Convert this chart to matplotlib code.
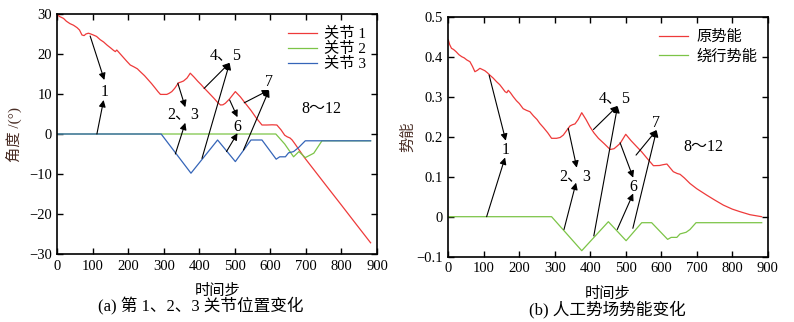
import matplotlib
matplotlib.use("Agg")
import matplotlib.pyplot as plt

plt.rcParams['font.family'] = ['Liberation Serif', 'Noto Sans CJK SC', 'DejaVu Sans']
plt.rcParams['axes.unicode_minus'] = True

# ---- data (a) ----
j1_x = [0,5,10,17,25,35,45,55,62,69, 75,80,87,94,101,110,120,130,140,150,
        158,163,167,175,185,195,205,215,225,233, 245,255,265,275,283,290,300,308,315,322,
        330,341,348,355,365,374,385,395,405,412, 425,440,450,459,466,473,485,501,515,529,
        545,560,576,590,605,618,630,640,647,655, 661,670,680,694,720,760,800,840,882]
j1_y = [30,29.4,29.2,28.9,28.2,27.6,27.2,26.6,26.0,24.75, 24.6,25.0,25.2,25.0,24.75,24.4,23.6,23.0,22.2,21.5,
        20.9,20.6,21.0,20.2,19.2,18.2,17.25,16.8,16.3,15.6, 14.6,13.6,12.6,11.5,10.6,9.9,9.9,9.9,10.2,10.6,
        11.4,12.8,13.0,13.25,14.0,15.2,14.2,13.2,12.3,11.6, 10.4,9.0,8.0,7.25,7.3,7.7,8.8,10.6,9.3,7.7,
        5.9,4.0,2.25,2.25,2.3,2.25,1.0,-0.3,-0.7,-1.0, -1.5,-2.6,-3.9,-5.7,-8.67,-13.25,-17.8,-22.4,-27.2]
j2_x = [0,615,640,665,680,698,722,745,882]
j2_y = [0,0,-2.5,-5.7,-4.4,-5.9,-4.8,-1.7,-1.7]
j3_x = [0,292,376,451,501,545,576,616,626,642,651,665,679,698,882]
j3_y = [0,0,-9.8,-1.5,-6.9,-1.5,-1.5,-6.3,-5.7,-5.7,-4.7,-4.4,-3.4,-1.7,-1.7]

# ---- data (b) ----
pe_x = [0,4,9,15,22,30,38,45,52,61, 68,75,82,89,96,103,110,117,126,136,
        145,152,160,165,169,175,183,192,200,211, 220,230,240,250,258,268,280,291,305,315,
        324,333,343,350,357,366,376,388,399,410, 423,440,456,467,475,484,500,515,531,545,
        560,578,595,605,616,625,634,645,653,665, 681,700,728,750,775,800,822,850,883]
pe_y = [0.442,0.43,0.421,0.418,0.4125,0.405,0.40,0.397,0.392,0.3875,
        0.376,0.3625,0.366,0.371,0.368,0.365,0.36,0.354,0.347,0.3375,
        0.33,0.322,0.3125,0.31,0.316,0.31,0.30,0.29,0.283,0.27,
        0.266,0.2625,0.252,0.243,0.233,0.223,0.21,0.196,0.196,0.198,
        0.204,0.215,0.227,0.23,0.232,0.243,0.26,0.243,0.225,0.21,
        0.196,0.182,0.168,0.17,0.176,0.183,0.206,0.19,0.175,0.162,
        0.146,0.1275,0.128,0.13,0.1317,0.122,0.1125,0.108,0.106,0.097,
        0.083,0.07,0.054,0.042,0.029,0.019,0.0125,0.005,0.0]
de_x = [0,291,376,451,501,545,573,618,628,644,653,670,681,698,883]
de_y = [0,0,-0.085,-0.0125,-0.06,-0.015,-0.015,-0.0567,-0.0517,-0.0517,-0.043,-0.039,-0.032,-0.015,-0.015]

legend_a = ['关节 1', '关节 2', '关节 3']
legend_b = ['原势能', '绕行势能']

RED = '#ee3a3a'
GREEN = '#7cc447'
BLUE = '#3565b8'
LABC = '#4a2e26'

fig = plt.figure(figsize=(7.94, 3.22), dpi=100)
axa = fig.add_axes([0.0724, 0.2112, 0.4024, 0.7453])
axb = fig.add_axes([0.5646, 0.2028, 0.4023, 0.7453])

lw = 0.9
axa.plot(j1_x, j1_y, color=RED, lw=lw, label=legend_a[0])
axa.plot(j2_x, j2_y, color=GREEN, lw=lw, label=legend_a[1])
axa.plot(j3_x, j3_y, color=BLUE, lw=lw, label=legend_a[2])
axb.plot(pe_x, pe_y, color=RED, lw=lw, label=legend_b[0])
axb.plot(de_x, de_y, color=GREEN, lw=lw, label=legend_b[1])

axa.set_xlim(0, 900); axa.set_ylim(-30, 30)
axa.set_yticks([-30, -20, -10, 0, 10, 20, 30])
axb.set_xlim(0, 900); axb.set_ylim(-0.1, 0.5)
axb.set_yticks([-0.1, 0, 0.1, 0.2, 0.3, 0.4, 0.5])
axb.set_yticklabels(['−0.1', '0', '0.1', '0.2', '0.3', '0.4', '0.5'])

for ax in (axa, axb):
    ax.set_xticks(range(0, 901, 100))
    ax.tick_params(direction='in', top=True, right=True, length=4, width=1,
                   labelsize=10.5, pad=4)
    for s in ax.spines.values():
        s.set_linewidth(1.2)

axa.set_ylabel('角度 /(°)', fontsize=11, color=LABC)
axa.yaxis.set_label_coords(-0.112, 0.5)
axb.set_ylabel('势能', fontsize=11, color=LABC)
axb.yaxis.set_label_coords(-0.104, 0.5)
axa.set_xlabel('时间步', fontsize=11)
axa.xaxis.set_label_coords(0.5, -0.125)
axb.set_xlabel('时间步', fontsize=11)
axb.xaxis.set_label_coords(0.5, -0.125)

axa.legend(loc='upper right', bbox_to_anchor=(1.0, 0.99), frameon=False, fontsize=11,
           handlelength=1.9, handletextpad=0.5, labelspacing=0.05, borderaxespad=0.3)
axb.legend(loc='upper right', bbox_to_anchor=(1.0, 0.99), frameon=False, fontsize=11,
           handlelength=1.9, handletextpad=0.5, labelspacing=0.35, borderaxespad=0.3)

ap = dict(arrowstyle='-|>', color='black', lw=0.8, mutation_scale=10, shrinkA=0, shrinkB=0)

def arr(ax, tail, head):
    ax.annotate('', xy=head, xytext=tail, arrowprops=ap)

# annotations (a)
fs = 11.5
axa.text(132, 10.6, '1', fontsize=fs, ha='center', va='center')
arr(axa, (92, 24.5), (132, 13.5)); arr(axa, (111, 0), (130, 8.5))
axa.text(355, 4.9, '2、3', fontsize=fs, ha='center', va='center')
arr(axa, (339, 12.7), (360, 6.7)); arr(axa, (332, -5), (360, 2.8))
axa.text(473, 19.75, '4、5', fontsize=fs, ha='center', va='center')
arr(axa, (413, 11.4), (485, 17.8)); arr(axa, (407, -6.1), (485, 17.8))
axa.text(507, 1.8, '6', fontsize=fs, ha='center', va='center')
arr(axa, (485, 8.5), (507, 4.2)); arr(axa, (476, -4.4), (507, 0.2))
axa.text(596, 13.1, '7', fontsize=fs, ha='center', va='center')
arr(axa, (526, 7.8), (596, 11.0)); arr(axa, (524, -4.0), (596, 11.0))
axa.text(742, 6.2, '8～12', fontsize=fs, ha='center', va='center')

# annotations (b)
axb.text(162, 0.167, '1', fontsize=fs, ha='center', va='center')
arr(axb, (115, 0.354), (162, 0.19)); arr(axb, (108, 0), (160, 0.148))
axb.text(357, 0.102, '2、3', fontsize=fs, ha='center', va='center')
arr(axb, (338, 0.221), (362, 0.1225)); arr(axb, (326, -0.032), (360, 0.085))
axb.text(470, 0.296, '4、5', fontsize=fs, ha='center', va='center')
arr(axb, (409, 0.218), (477, 0.277)); arr(axb, (410, -0.048), (477, 0.277))
axb.text(521, 0.075, '6', fontsize=fs, ha='center', va='center')
arr(axb, (484, 0.185), (521, 0.0975)); arr(axb, (476, -0.032), (521, 0.058))
axb.text(584, 0.235, '7', fontsize=fs, ha='center', va='center')
arr(axb, (529, 0.154), (587, 0.2167)); arr(axb, (520, -0.029), (587, 0.2167))
axb.text(719, 0.175, '8～12', fontsize=fs, ha='center', va='center')

fig.text(201/794, 1 - 306/322, '(a) 第 1、2、3 关节位置变化', fontsize=12, ha='center', va='center')
fig.text(607/794, 1 - 309/322, '(b) 人工势场势能变化', fontsize=12, ha='center', va='center')

fig.savefig('out.png', dpi=100)
